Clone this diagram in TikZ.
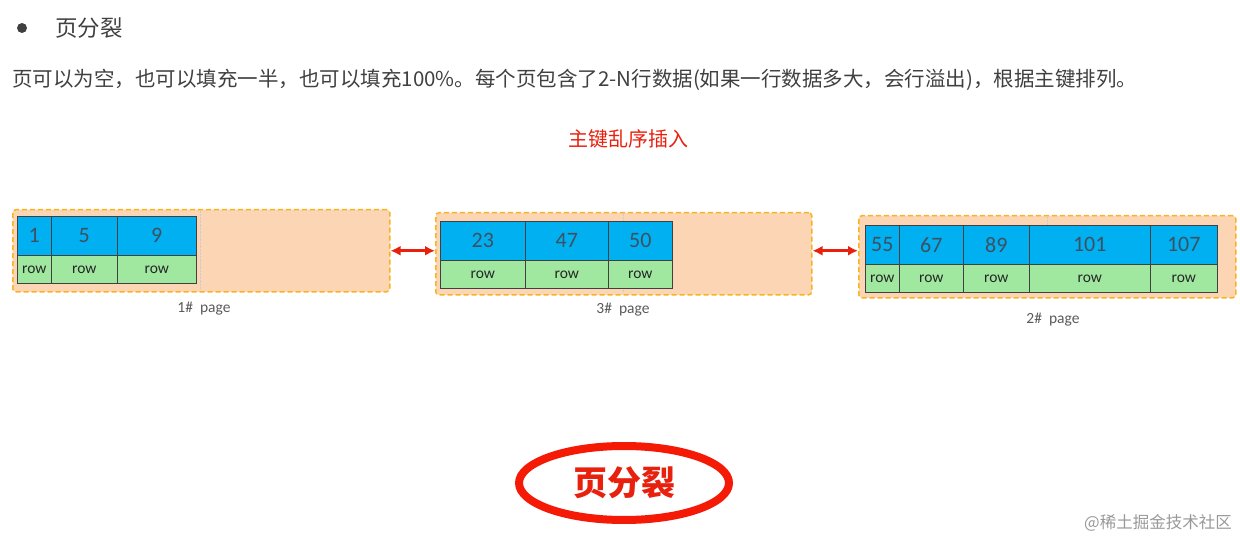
\documentclass[tikz,border=0pt]{standalone}
\usepackage{fontspec}
\setmainfont{Noto Sans CJK SC}
\newfontfamily\carl{Carlito}
\usetikzlibrary{arrows.meta,shapes.geometric}
\definecolor{peach}{HTML}{FCD5B4}
\definecolor{pborder}{HTML}{F7B41E}
\definecolor{cblue}{HTML}{00B0F0}
\definecolor{cgreen}{HTML}{A0E8A0}
\definecolor{numc}{HTML}{3F5063}
\definecolor{redc}{HTML}{E8200E}
\definecolor{ellc}{HTML}{F41A06}
\definecolor{txt}{HTML}{404040}
\definecolor{lblc}{HTML}{5A5A5A}
\tikzset{
  page/.style={draw=pborder, fill=peach, dash pattern=on 5pt off 3pt, line width=1.5pt, rounded corners=3pt, inner sep=0pt, anchor=north west},
  bcell/.style={draw=black!75, fill=cblue, line width=0.6pt, inner sep=0pt, anchor=north west, font=\carl\fontsize{22}{22}\selectfont, text=numc},
  gcell/.style={draw=black!75, fill=cgreen, line width=0.6pt, inner sep=0pt, anchor=north west, font=\carl\fontsize{15.5}{15}\selectfont, text=black!85},
  lbl/.style={font=\carl\fontsize{15.5}{15}\selectfont, text=lblc},
  link/.style={draw=redc, line width=2.8pt, {Latex[length=10pt,width=10pt]}-{Latex[length=10pt,width=10pt]}},
  midline/.style={draw=black!20, line width=0.4pt, densely dotted}
}
\newcommand{\mycell}[7]{\node[#6, minimum width={(#3-#2)*1pt}, minimum height={(#5-#4)*1pt}] (#1) at (#2,#4) {#7};}
\begin{document}
\begin{tikzpicture}[x=1pt,y=-1pt]
\useasboundingbox (0,0) rectangle (1240,540);
% header
\fill[txt] (22,28) circle (5);
\node[anchor=west, text=txt, font=\fontsize{22.5}{22}\selectfont, inner sep=0pt] (title) at (55,28) {页分裂};
\node[anchor=west, text=txt, font=\fontsize{20.5}{20}\selectfont, inner sep=0pt] (para) at (12,80) {页可以为空，也可以填充一半，也可以填充100\%。每个页包含了2-N行数据(如果一行数据多大，会行溢出)，根据主键排列。};
\node[text=redc, font=\fontsize{20}{20}\selectfont, inner sep=0pt] (sub) at (628,139) {主键乱序插入};
% page 1
\node[page, minimum width=377pt, minimum height=82pt] (p1) at (12,209) {};
\draw[midline] (200,211) -- (200,289);
\mycell{a1}{17}{51}{216}{255}{bcell}{1}
\mycell{a2}{51}{117}{216}{255}{bcell}{5}
\mycell{a3}{117}{196}{216}{255}{bcell}{9}
\mycell{b1}{17}{51}{255}{283}{gcell}{row}
\mycell{b2}{51}{117}{255}{283}{gcell}{row}
\mycell{b3}{117}{196}{255}{283}{gcell}{row}
\node[lbl] (l1) at (204,309) {1\#\ \ page};
% page 3
\node[page, minimum width=376pt, minimum height=82pt] (p3) at (435,212) {};
\draw[midline] (623,214) -- (623,292);
\mycell{c1}{440}{525}{221}{260}{bcell}{23}
\mycell{c2}{525}{608}{221}{260}{bcell}{47}
\mycell{c3}{608}{672}{221}{260}{bcell}{50}
\mycell{d1}{440}{525}{260}{288}{gcell}{row}
\mycell{d2}{525}{608}{260}{288}{gcell}{row}
\mycell{d3}{608}{672}{260}{288}{gcell}{row}
\node[lbl] (l3) at (623,310) {3\#\ \ page};
% page 2
\node[page, minimum width=377pt, minimum height=82pt] (p2) at (858,215) {};
\draw[midline] (1047,217) -- (1047,225);
\mycell{e1}{865}{899}{225}{264}{bcell}{55}
\mycell{e2}{899}{963}{225}{264}{bcell}{67}
\mycell{e3}{963}{1029}{225}{264}{bcell}{89}
\mycell{e4}{1029}{1150}{225}{264}{bcell}{101}
\mycell{e5}{1150}{1217}{225}{264}{bcell}{107}
\mycell{f1}{865}{899}{264}{292}{gcell}{row}
\mycell{f2}{899}{963}{264}{292}{gcell}{row}
\mycell{f3}{963}{1029}{264}{292}{gcell}{row}
\mycell{f4}{1029}{1150}{264}{292}{gcell}{row}
\mycell{f5}{1150}{1217}{264}{292}{gcell}{row}
\node[lbl] (l2) at (1053,320) {2\#\ \ page};
% links
\draw[link] (p1.east) -- (p1.east -| p3.west);
\draw[link] ([yshift=3pt]p3.east) -- ([yshift=3pt]p3.east -| p2.west);
% ellipse
\node[draw=ellc, line width=8pt, ellipse, minimum width=210pt, minimum height=74pt, inner sep=0pt] (split) at (624,483) {};
\node[text=redc, font=\bfseries\fontsize{34}{34}\selectfont, inner sep=0pt] (splittxt) at (624,483) {页分裂};
% watermark
\node[anchor=east, text=black!40, font=\fontsize{16.5}{17}\selectfont, inner sep=0pt] (wm) at (1232,523) {@稀土掘金技术社区};
\end{tikzpicture}
\end{document}
